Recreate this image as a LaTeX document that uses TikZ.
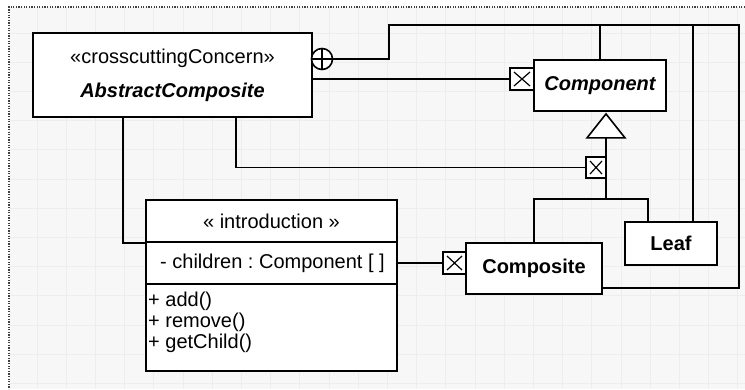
\documentclass[tikz,border=0pt]{standalone}
\usepackage{fontspec}
\setmainfont{Liberation Sans}
\usetikzlibrary{calc}
\begin{document}
\frenchspacing
\begin{tikzpicture}[x=1pt,y=-1pt,
  font=\fontsize{20}{23}\selectfont,
  box/.style={draw, line width=1.8pt, fill=white, inner sep=0pt},
  conn/.style={line width=1.6pt},
  txt/.style={inner sep=0pt},
  xbox/.style={draw, line width=1.6pt, fill=white, inner sep=0pt,
    path picture={\draw[line width=1.2pt]
      ([shift={(4pt,4pt)}]path picture bounding box.south west) --
      ([shift={(-4pt,-4pt)}]path picture bounding box.north east)
      ([shift={(4pt,-4pt)}]path picture bounding box.north west) --
      ([shift={(-4pt,4pt)}]path picture bounding box.south east);}}]
\useasboundingbox (0,0) rectangle (745,389);
% background
\fill[white] (0,0) rectangle (745,389);
\fill[gray!6] (9,7) rectangle (745,389);
\foreach \i in {0,...,24} \draw[gray!14, line width=0.8pt] (37+29.2*\i,7) -- (37+29.2*\i,389);
\foreach \j in {0,...,12} \draw[gray!14, line width=0.8pt] (9,33+29.2*\j) -- (745,33+29.2*\j);
\draw[black!75, line width=1.5pt, dash pattern=on 1.3pt off 1.3pt] (745,7) -- (9,7) -- (9,389);

% boxes
\node[box, minimum width=279pt, minimum height=84pt] (ac) at (172.5,75) {};
\node[box, minimum width=132pt, minimum height=51pt] (comp) at (600,85.5) {\bfseries\itshape Component};
\node[box, minimum width=136pt, minimum height=51pt] (cmpst) at (534,268.5) {\bfseries Composite};
\node[box, minimum width=92pt, minimum height=43pt] (leaf) at (671,243.5) {\bfseries Leaf};
\node[box, minimum width=251pt, minimum height=42pt] (ih) at (271.5,221) {« introduction »};
\node[box, minimum width=251pt, minimum height=42pt] (ia) at (271.5,263) {};
\node[box, minimum width=251pt, minimum height=87pt] (io) at (271.5,327.5) {};

% text
\node[txt] (acs) at (172.5,58) {«crosscuttingConcern»};
\node[txt] (acn) at (172.5,92) {\bfseries\itshape AbstractComposite};
\node[txt, anchor=west] (attr) at (160,263) {- children : Component [ ]};
\node[txt, anchor=west] (m1) at (148,301) {+ add()};
\node[txt, anchor=west] (m2) at (148,322) {+ remove()};
\node[txt, anchor=west] (m3) at (148,343) {+ getChild()};

% helper coordinates
\coordinate (t1) at (389,25);
\coordinate (t2) at (739,25);
\coordinate (lf1) at ($(leaf.north)+(22,0)$);
\coordinate (lf2) at ($(leaf.north)+(-23,0)$);
\coordinate (apex) at ($(comp.south)+(6,2)$);
\coordinate (tb) at ($(apex)+(0,24)$);
\coordinate (a1) at ($(ac.south west)+(91,0)$);
\coordinate (a2) at ($(ac.south west)+(204,0)$);

% circle-plus and x boxes (anchors)
\node[circle, minimum size=21pt, inner sep=0pt] (oc) at (322,59) {};
\node[minimum width=24pt, minimum height=22pt, inner sep=0pt] (xa) at (522,79) {};
\node[minimum width=20pt, minimum height=21pt, inner sep=0pt] (xb) at (596,167.5) {};
\node[minimum width=23pt, minimum height=22pt, inner sep=0pt] (xc) at (454.5,263) {};

% connectors
\draw[conn] (oc.east) -| (t1) -- (t2) |- ($(cmpst.south east)+(0,-7)$);
\draw[conn] (comp.north) -- (comp.north |- t1);
\draw[conn] (lf1) -- (lf1 |- t1);
\draw[conn] (xa.west -| ac.east) -- (xa.west);
\draw[conn] (tb) -- (tb |- ih.north);
\draw[conn] (cmpst.north) |- (lf2 |- ih.north) -- (lf2);
\draw[conn] (a2) |- (xb.west);
\draw[conn] (a1) |- (ih.south west);
\draw[conn] (ia.east) -- (xc.west);
\draw[conn, fill=white] (apex) -- ++(-19,24) -- ++(38,0) -- cycle;

% symbols on top
\draw[line width=1.6pt, fill=white] (oc) circle (10.5pt);
\draw[line width=1.6pt] (oc.north) -- (oc.south) (oc.west) -- (oc.east);
\node[xbox, minimum width=24pt, minimum height=22pt] at (xa) {};
\node[xbox, minimum width=20pt, minimum height=21pt] at (xb) {};
\node[xbox, minimum width=23pt, minimum height=22pt] at (xc) {};
\end{tikzpicture}
\end{document}
